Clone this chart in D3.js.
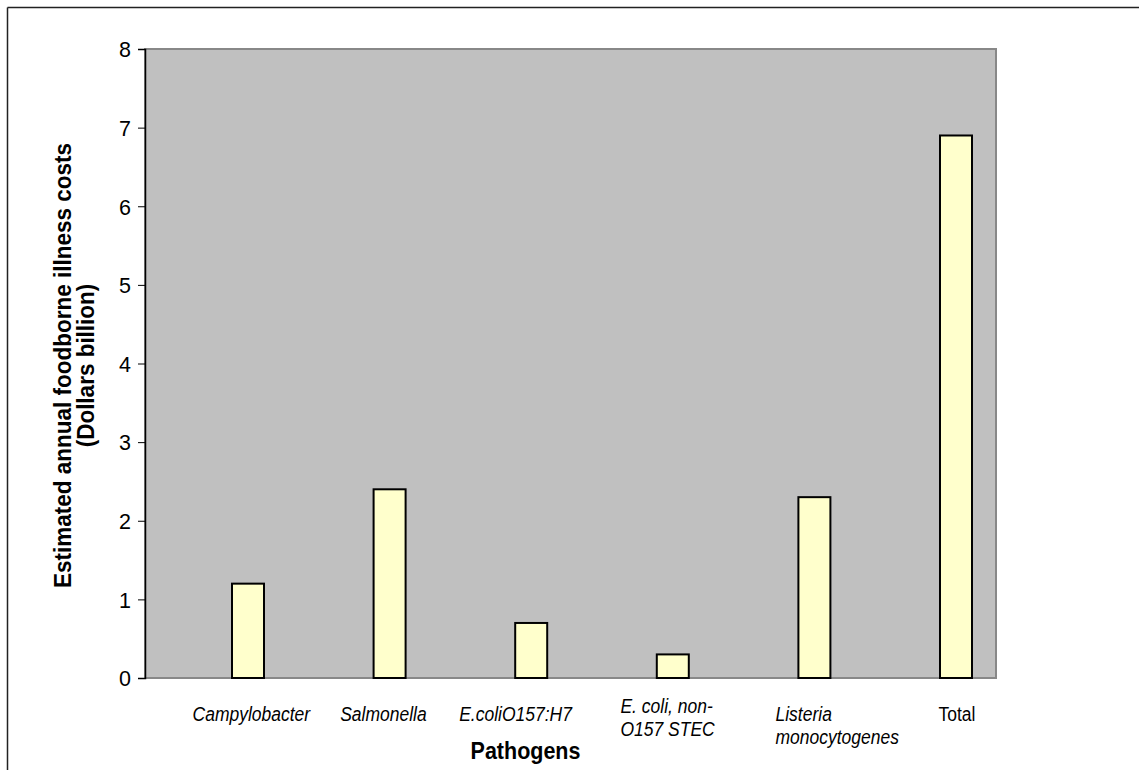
<!DOCTYPE html>
<html>
<head>
<meta charset="utf-8">
<script src="https://cdn.jsdelivr.net/npm/d3@7"></script>
<style>
  html, body { margin: 0; padding: 0; background: #fff; }
  svg { display: block; font-family: "Liberation Sans", Arial, sans-serif; }
</style>
</head>
<body>
<svg id="chart" width="1139" height="770"></svg>
<script>
const categories = [
  ["Campylobacter"],
  ["Salmonella"],
  ["E.coliO157:H7"],
  ["E. coli, non-", "O157 STEC"],
  ["Listeria", "monocytogenes"],
  ["Total"]
];
const italicLabel = [true, true, true, true, true, false];
const values = [1.2, 2.4, 0.7, 0.3, 2.3, 6.9];
const yTicks = [0, 1, 2, 3, 4, 5, 6, 7, 8];
const yTitle = ["Estimated annual foodborne illness costs", "(Dollars billion)"];
const xTitle = "Pathogens";

// layout nudges for the wrapped category labels (layout only)
const labelNudgeX = [4, -6, -15, -5, 23, 1];
const labelNudgeY = [0, 0, 0, -8, 0, 0];

const svg = d3.select("#chart");

// frame
svg.append("line").attr("x1", 7.5).attr("x2", 1139).attr("y1", 7.5).attr("y2", 7.5)
  .attr("stroke", "#222").attr("stroke-width", 1.5);
svg.append("line").attr("x1", 7.5).attr("x2", 7.5).attr("y1", 7.5).attr("y2", 770)
  .attr("stroke", "#222").attr("stroke-width", 1.5);

const plot = { left: 145, right: 996, top: 49, bottom: 678 };

const y = d3.scaleLinear().domain([0, 8]).range([plot.bottom, plot.top]);
const idx = d3.range(categories.length);
const x = d3.scalePoint().domain(idx).range([248, 956]);
const barW = 32;

// plot area background
svg.append("rect")
  .attr("x", plot.left).attr("y", plot.top)
  .attr("width", plot.right - plot.left).attr("height", plot.bottom - plot.top)
  .attr("fill", "#c0c0c0")
  .attr("stroke", "#888").attr("stroke-width", 2);

// bars
svg.append("g").selectAll("rect").data(values).join("rect")
  .attr("x", (d, i) => x(i) - barW / 2)
  .attr("y", d => y(d))
  .attr("width", barW)
  .attr("height", d => y(0) - y(d))
  .attr("fill", "#ffffcc")
  .attr("stroke", "#000")
  .attr("stroke-width", 2);

// y axis
const yAxis = d3.axisLeft(y).tickValues(yTicks).tickSize(7).tickPadding(7).tickFormat(d3.format("d"));
const gy = svg.append("g").attr("transform", `translate(${plot.left},0)`).call(yAxis);
gy.select(".domain").attr("stroke", "#000").attr("stroke-width", 1.5);
gy.selectAll(".tick line").attr("stroke", "#000").attr("stroke-width", 1);
gy.selectAll(".tick text").attr("font-size", 21.5).attr("fill", "#000")
  .attr("font-family", "'Liberation Sans', Arial, sans-serif")
  .attr("dy", "0.36em");

// category labels
const labG = svg.append("g");
categories.forEach((lines, i) => {
  const t = labG.append("text")
    .attr("font-size", 17.5)
    .attr("font-style", italicLabel[i] ? "italic" : "normal")
    .attr("fill", "#000")
    .attr("y", 0);
  lines.forEach((ln, j) => {
    t.append("tspan").attr("x", 0).attr("dy", j === 0 ? 0 : 20).text(ln);
  });
  const bb = t.node().getBBox();
  t.attr("transform",
    `translate(${x(i) - bb.width / 2 + labelNudgeX[i]},${721 + labelNudgeY[i]}) scale(1,1.15)`);
});

// axis titles
svg.append("text")
  .attr("transform", `translate(${(plot.left + plot.right) / 2 - 45},759) scale(1,1.1)`)
  .attr("text-anchor", "middle")
  .attr("font-size", 21.5)
  .attr("font-weight", "bold")
  .text(xTitle);

const yt = svg.append("text")
  .attr("transform", `translate(71,${(plot.top + plot.bottom) / 2 + 2}) rotate(-90) scale(1,1.1)`)
  .attr("text-anchor", "middle")
  .attr("font-size", 22.5)
  .attr("font-weight", "bold");
yTitle.forEach((ln, j) => {
  yt.append("tspan").attr("x", 0).attr("dy", j === 0 ? 0 : 20.5).text(ln);
});
</script>
</body>
</html>
